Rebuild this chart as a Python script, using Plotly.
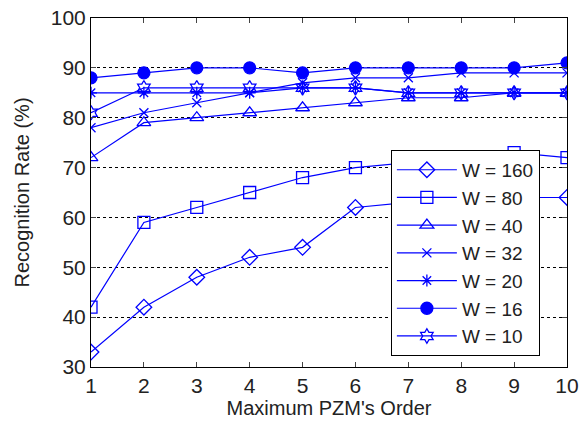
import plotly.graph_objects as go

orders = [1, 2, 3, 4, 5, 6, 7, 8, 9, 10]
w160 = [33, 42, 48, 52, 54, 62, 63, 63, 64, 64]
w80 = [42, 59, 62, 65, 68, 70, 71, 72, 73, 72]
w40 = [72, 79, 80, 81, 82, 83, 84, 84, 85, 85]
w32 = [78, 81, 83, 85, 87, 88, 88, 89, 89, 89]
w20 = [85, 85, 85, 85, 86, 86, 85, 85, 85, 85]
w16 = [88, 89, 90, 90, 89, 90, 90, 90, 90, 91]
w10 = [81, 86, 86, 86, 86, 86, 85, 85, 85, 85]
y_ticks = [30, 40, 50, 60, 70, 80, 90, 100]

series = [
    ("W = 160", w160, "diamond-open", 12),
    ("W = 80", w80, "square-open", 12),
    ("W = 40", w40, "triangle-up-open", 12),
    ("W = 32", w32, "x-thin-open", 9),
    ("W = 20", w20, "asterisk-open", 10),
    ("W = 16", w16, "circle", 12),
    ("W = 10", w10, "hexagram-open", 11),
]

blue = "rgb(0,0,255)"
fig = go.Figure()
for name, vals, sym, sz in series:
    fig.add_trace(go.Scatter(
        x=orders, y=vals, name=name, mode="lines+markers",
        line=dict(color=blue, width=1.2),
        marker=dict(symbol=sym, size=sz, color=blue,
                    line=dict(color=blue, width=1.3)),
    ))

font = "Liberation Sans, Arial, sans-serif"
fig.update_layout(
    width=581, height=430,
    margin=dict(l=91, r=14, t=18, b=63),
    plot_bgcolor="white", paper_bgcolor="white",
    font=dict(family=font, size=20, color="#222"),
    showlegend=True,
    legend=dict(x=0.63, y=0.622, xanchor="left", yanchor="top",
                bgcolor="white", bordercolor="black", borderwidth=1,
                font=dict(size=19), itemwidth=60, tracegroupgap=0),
    xaxis=dict(range=[1, 10], tickvals=orders, showgrid=False,
               ticks="inside", ticklen=5, mirror="ticks", showline=True,
               linecolor="black", linewidth=1, zeroline=False,
               automargin=False,
               title=dict(text="Maximum PZM's Order", standoff=0,
                          font=dict(size=20)),
               tickfont=dict(size=21)),
    yaxis=dict(range=[30, 100], tickvals=y_ticks,
               showgrid=True, gridcolor="black", griddash="dot", gridwidth=1,
               ticks="inside", ticklen=5, mirror="ticks", showline=True,
               linecolor="black", linewidth=1, zeroline=False,
               automargin=False,
               title=dict(text="Recognition Rate (%)", standoff=15,
                          font=dict(size=20)),
               tickfont=dict(size=21)),
)

fig.write_html("out.html",
               config={"displayModeBar": False},
               post_script="document.body.style.margin='0';")
